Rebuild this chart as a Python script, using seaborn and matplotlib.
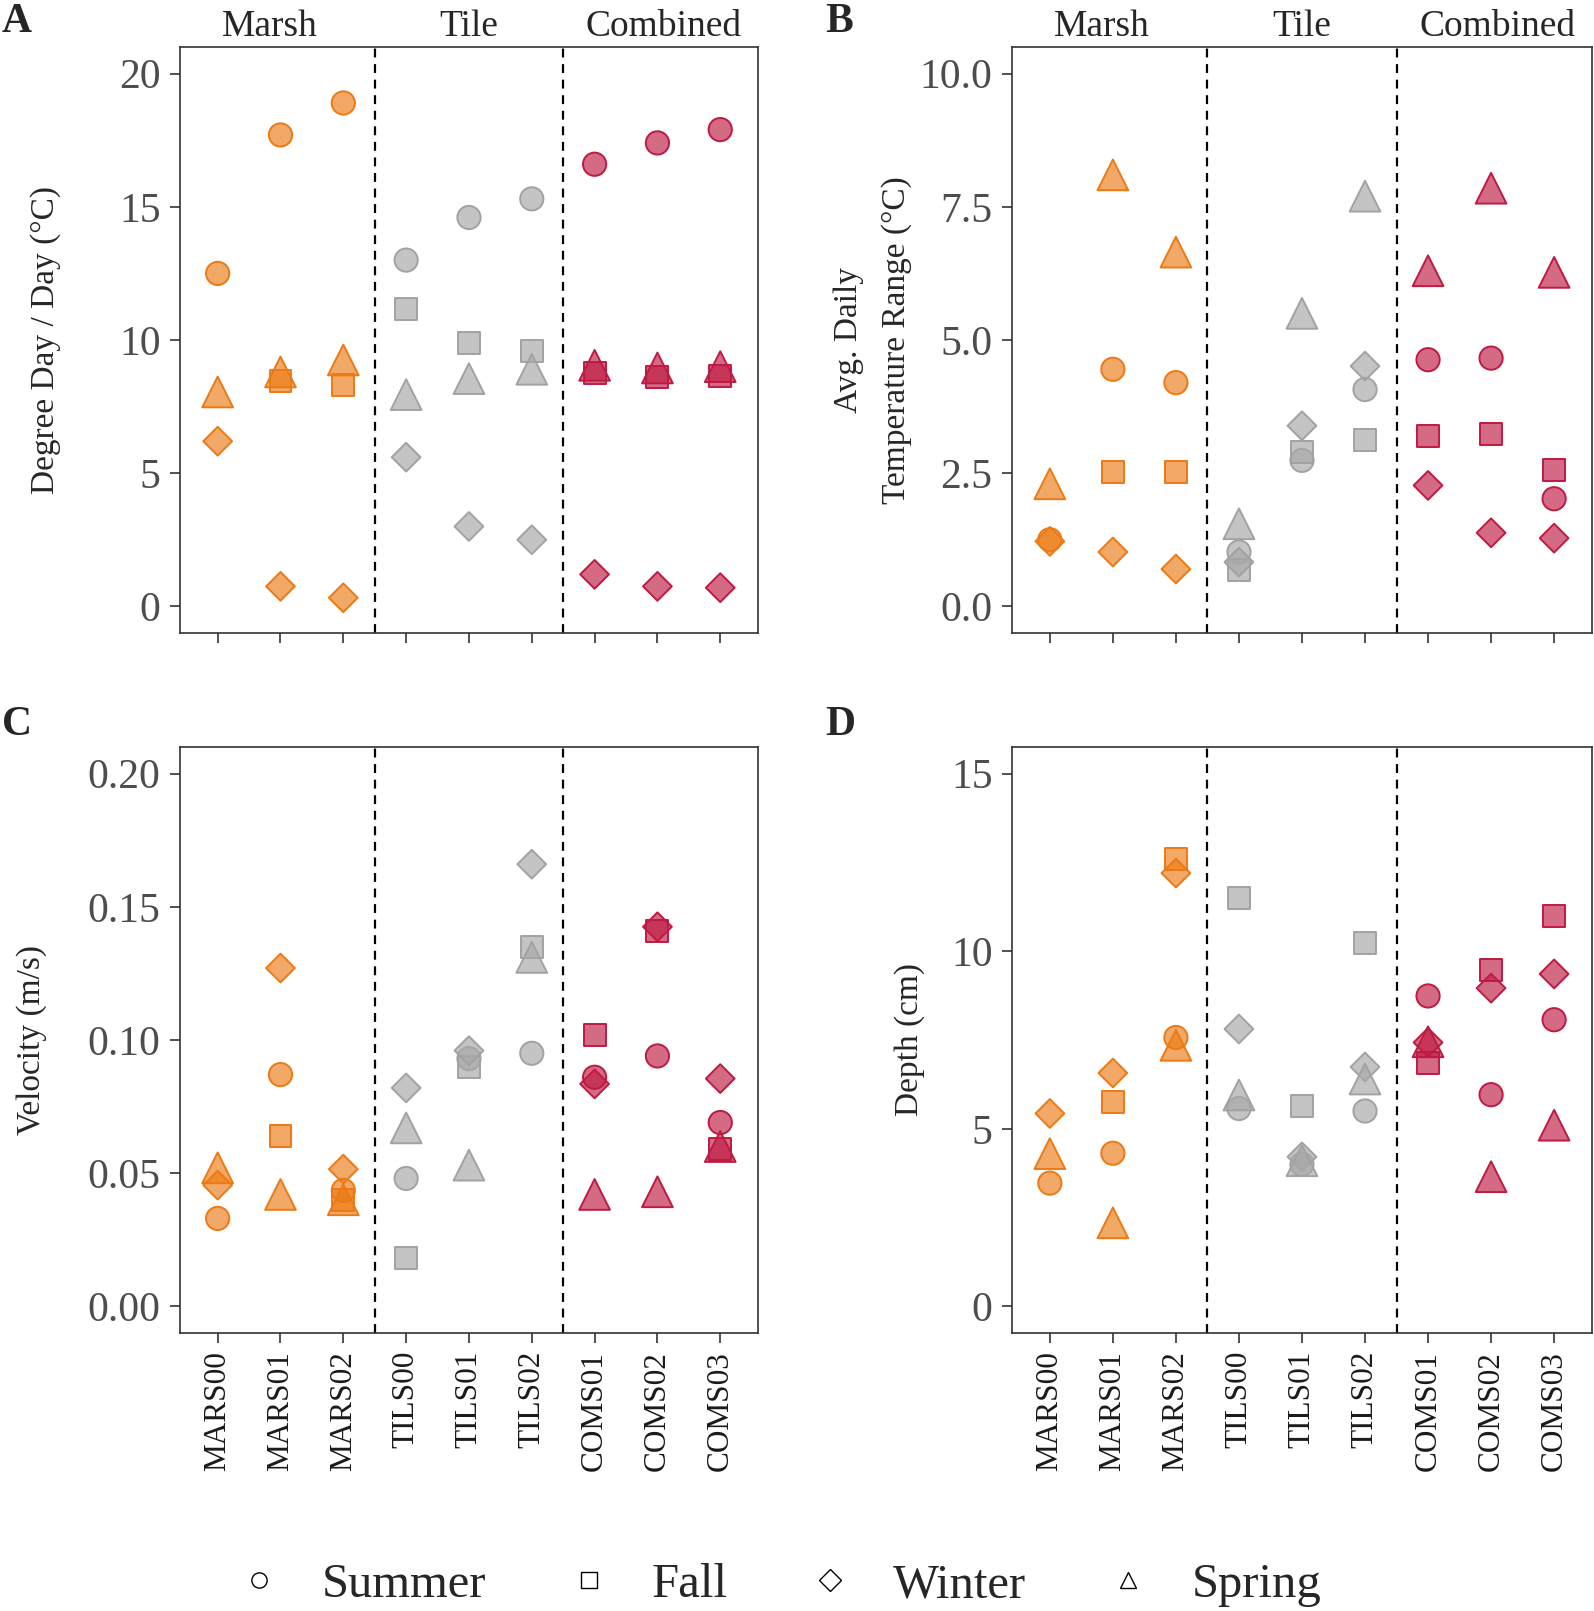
import numpy as np
import pandas as pd
import matplotlib.pyplot as plt
import matplotlib.transforms as mtransforms
from matplotlib.lines import Line2D
import seaborn as sns

sns.set_style("ticks")
plt.rcParams["font.family"] = ["Liberation Serif", "DejaVu Serif"]

# sites and groups
sites = ["MARS00", "MARS01", "MARS02", "TILS00", "TILS01", "TILS02",
         "COMS01", "COMS02", "COMS03"]
site_groups = ["Marsh"] * 3 + ["Tile"] * 3 + ["Combined"] * 3
group_names = ["Marsh", "Tile", "Combined"]
seasons = ["Summer", "Fall", "Winter", "Spring"]

# A: degree day / day (C)
dd_summer = [12.5, 17.7, 18.9, 13.0, 14.6, 15.3, 16.6, 17.4, 17.9]
dd_fall = [np.nan, 8.45, 8.3, 11.15, 9.9, 9.6, 8.75, 8.6, 8.65]
dd_winter = [6.2, 0.75, 0.32, 5.6, 3.0, 2.5, 1.2, 0.75, 0.7]
dd_spring = [8.05, 8.8, 9.25, 7.95, 8.55, 8.9, 9.05, 8.95, 9.0]

# B: avg daily temperature range (C)
tr_summer = [1.25, 4.45, 4.2, 1.02, 2.74, 4.07, 4.63, 4.66, 2.02]
tr_fall = [np.nan, 2.52, 2.52, 0.69, 2.89, 3.12, 3.19, 3.24, 2.56]
tr_winter = [1.22, 1.02, 0.7, 0.83, 3.39, 4.51, 2.27, 1.38, 1.28]
tr_spring = [2.3, 8.1, 6.65, 1.55, 5.5, 7.7, 6.3, 7.85, 6.27]

# C: velocity (m/s)
vel_summer = [0.033, 0.087, 0.0435, 0.048, 0.093, 0.095, 0.086, 0.094, 0.069]
vel_fall = [np.nan, 0.064, 0.040, 0.018, 0.090, 0.135, 0.102, 0.141, 0.059]
vel_winter = [0.0455, 0.127, 0.0515, 0.082, 0.096, 0.166, 0.0835, 0.1425, 0.0855]
vel_spring = [0.052, 0.042, 0.040, 0.067, 0.053, 0.131, 0.042, 0.043, 0.060]

# D: depth (cm)
dep_summer = [3.47, 4.31, 7.57, 5.57, 4.0, 5.5, 8.74, 5.96, 8.07]
dep_fall = [np.nan, 5.76, 12.6, 11.5, 5.64, 10.24, 6.86, 9.47, 11.0]
dep_winter = [5.43, 6.57, 12.2, 7.81, 4.21, 6.74, 7.43, 8.96, 9.36]
dep_spring = [4.3, 2.35, 7.35, 5.95, 4.1, 6.4, 7.45, 3.65, 5.1]

panels = [
    ("A", "Degree Day / Day (°C)", [dd_summer, dd_fall, dd_winter, dd_spring],
     (-1.0, 21.0), [0, 5, 10, 15, 20], "{:.0f}"),
    ("B", "Avg. Daily\nTemperature Range (°C)", [tr_summer, tr_fall, tr_winter, tr_spring],
     (-0.5, 10.5), [0, 2.5, 5, 7.5, 10], "{:.1f}"),
    ("C", "Velocity (m/s)", [vel_summer, vel_fall, vel_winter, vel_spring],
     (-0.01, 0.21), [0, 0.05, 0.10, 0.15, 0.20], "{:.2f}"),
    ("D", "Depth (cm)", [dep_summer, dep_fall, dep_winter, dep_spring],
     (-0.75, 15.75), [0, 5, 10, 15], "{:.0f}"),
]

fill_cols = {"Marsh": (0.925, 0.48, 0.08, 0.65),
             "Tile": (0.66, 0.66, 0.66, 0.68),
             "Combined": (0.75, 0.10, 0.26, 0.65)}
edge_cols = {"Marsh": "#EC7A14", "Tile": "#A2A2A2", "Combined": "#BE1A42"}
season_markers = {"Summer": "o", "Fall": "s", "Winter": "D", "Spring": "^"}
season_sizes = {"Summer": 280, "Fall": 250, "Winter": 215, "Spring": 490}

fig = plt.figure(figsize=(15.94, 16.11), dpi=100)
positions = [
    [0.1129, 0.6071, 0.3626, 0.3637],
    [0.6349, 0.6071, 0.3638, 0.3637],
    [0.1129, 0.1726, 0.3626, 0.3637],
    [0.6349, 0.1726, 0.3638, 0.3637],
]
label_x = [-0.205, -0.172, -0.230, -0.150]
strip_x = [0.83, 4.0, 7.1]

for i, (letter, ylab, series, ylim, yticks, fmt) in enumerate(panels):
    ax = fig.add_axes(positions[i])
    rows = []
    for s_i, site in enumerate(sites):
        for season, vals in zip(seasons, series):
            if not np.isnan(vals[s_i]):
                rows.append({"site": site, "group": site_groups[s_i],
                             "season": season, "value": vals[s_i]})
    df = pd.DataFrame(rows)

    for grp in group_names:
        sub = df[df["group"] == grp]
        sns.scatterplot(data=sub, x="site", y="value", style="season", size="season",
                        markers=season_markers, sizes=season_sizes,
                        style_order=seasons, size_order=seasons,
                        color=fill_cols[grp], edgecolor=edge_cols[grp],
                        linewidth=1.4, legend=False, ax=ax, zorder=3)

    ax.axvline(2.5, color="black", ls=(0, (4, 3)), lw=1.6, zorder=2)
    ax.axvline(5.5, color="black", ls=(0, (4, 3)), lw=1.6, zorder=2)
    ax.set_xlim(-0.6, 8.6)
    ax.set_ylim(*ylim)
    ax.set_yticks(yticks)
    ax.set_yticklabels([fmt.format(v) for v in yticks])
    ax.set_xticks(range(len(sites)))
    ax.set_xlabel("")
    ax.set_ylabel(ylab, fontsize=24, linespacing=1.75)
    ax.yaxis.set_label_coords(label_x[i], 0.5)
    ax.tick_params(axis="y", labelsize=30, labelcolor="#4D4D4D", length=7,
                   width=1.2, color="#333333", pad=7)
    ax.tick_params(axis="x", length=7, width=1.2, color="#333333", pad=6)
    if i < 2:
        ax.set_xticklabels([])
        trans = mtransforms.blended_transform_factory(ax.transData, ax.transAxes)
        for k, g in enumerate(group_names):
            ax.text(strip_x[k], 1.018, g, transform=trans, ha="center",
                    va="baseline", fontsize=27)
    else:
        ax.set_xticklabels(sites, rotation=90, fontsize=22.5, color="#1A1A1A")
    for sp in ax.spines.values():
        sp.set_color("#333333")
        sp.set_linewidth(1.2)

fig.text(0.001, 0.998, "A", fontsize=30, fontweight="bold", ha="left", va="top")
fig.text(0.518, 0.998, "B", fontsize=30, fontweight="bold", ha="left", va="top")
fig.text(0.001, 0.562, "C", fontsize=30, fontweight="bold", ha="left", va="top")
fig.text(0.518, 0.562, "D", fontsize=30, fontweight="bold", ha="left", va="top")

handles = [Line2D([], [], ls="none", marker=season_markers[s], markersize=11,
                  markerfacecolor="none", markeredgecolor="black", markeredgewidth=1)
           for s in seasons]
fig.legend(handles, seasons, loc="center", bbox_to_anchor=(0.488, 0.016), ncol=4,
           frameon=False, fontsize=35, handlelength=1.0, handletextpad=0.8,
           columnspacing=1.6)

fig.savefig("out.png", dpi=100)
